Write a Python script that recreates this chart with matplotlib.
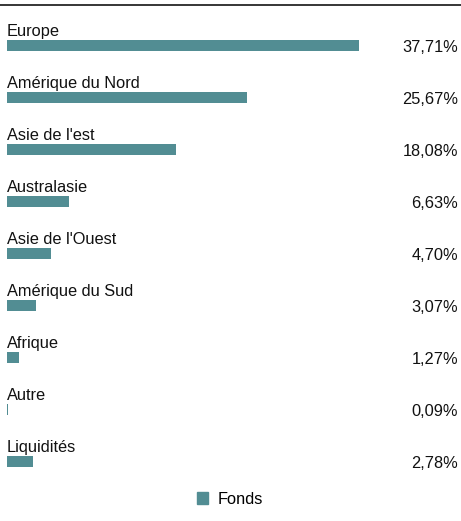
import matplotlib.pyplot as plt
import matplotlib.patches as mpatches
import matplotlib.transforms as mtransforms

regions = ['Europe', 'Amérique du Nord', "Asie de l'est", 'Australasie', "Asie de l'Ouest",
           'Amérique du Sud', 'Afrique', 'Autre', 'Liquidités']
fonds = [37.71, 25.67, 18.08, 6.63, 4.70, 3.07, 1.27, 0.09, 2.78]
serie = 'Fonds'

couleur = '#528d93'
W, H = 461, 521
fs = 11.8

plt.rcParams['font.family'] = ['Liberation Sans', 'DejaVu Sans']

fig = plt.figure(figsize=(W / 100, H / 100), dpi=100)
# ejes a ancho completo, de y=5 px a y=480 px
ax = fig.add_axes([0, 1 - 480 / H, 1, 475 / H])

px_por_unidad = 352 / 37.71
ax.set_xlim(-7 / px_por_unidad, (W - 7) / px_por_unidad)
ax.set_ylim(8 + (480 - 461.5) / 52, -(45.5 - 5) / 52)

y = list(range(len(regions)))
ax.barh(y, fonds, height=11 / 52, color=couleur, left=0)

trans = mtransforms.blended_transform_factory(fig.transFigure, ax.transData)
for i, (reg, val) in enumerate(zip(regions, fonds)):
    ax.text(0, i - 9.5 / 52, reg, fontsize=fs, va='baseline', ha='left', color='#111111')
    ax.text(458 / W, i + 2 / 52, f'{val:.2f}%'.replace('.', ','), transform=trans,
            fontsize=fs, va='center', ha='right', color='#111111')

for s in ['right', 'bottom', 'left']:
    ax.spines[s].set_visible(False)
ax.spines['top'].set_linewidth(1.1)
ax.spines['top'].set_color('black')
ax.set_xticks([])
ax.set_yticks([])

parche = mpatches.Patch(color=couleur, label=serie)
fig.legend(handles=[parche], loc='center', bbox_to_anchor=(230 / W, 1 - 499 / H),
           frameon=False, fontsize=fs, handlelength=0.7, handleheight=0.7,
           handletextpad=0.6)

fig.savefig('out.png', dpi=100)
